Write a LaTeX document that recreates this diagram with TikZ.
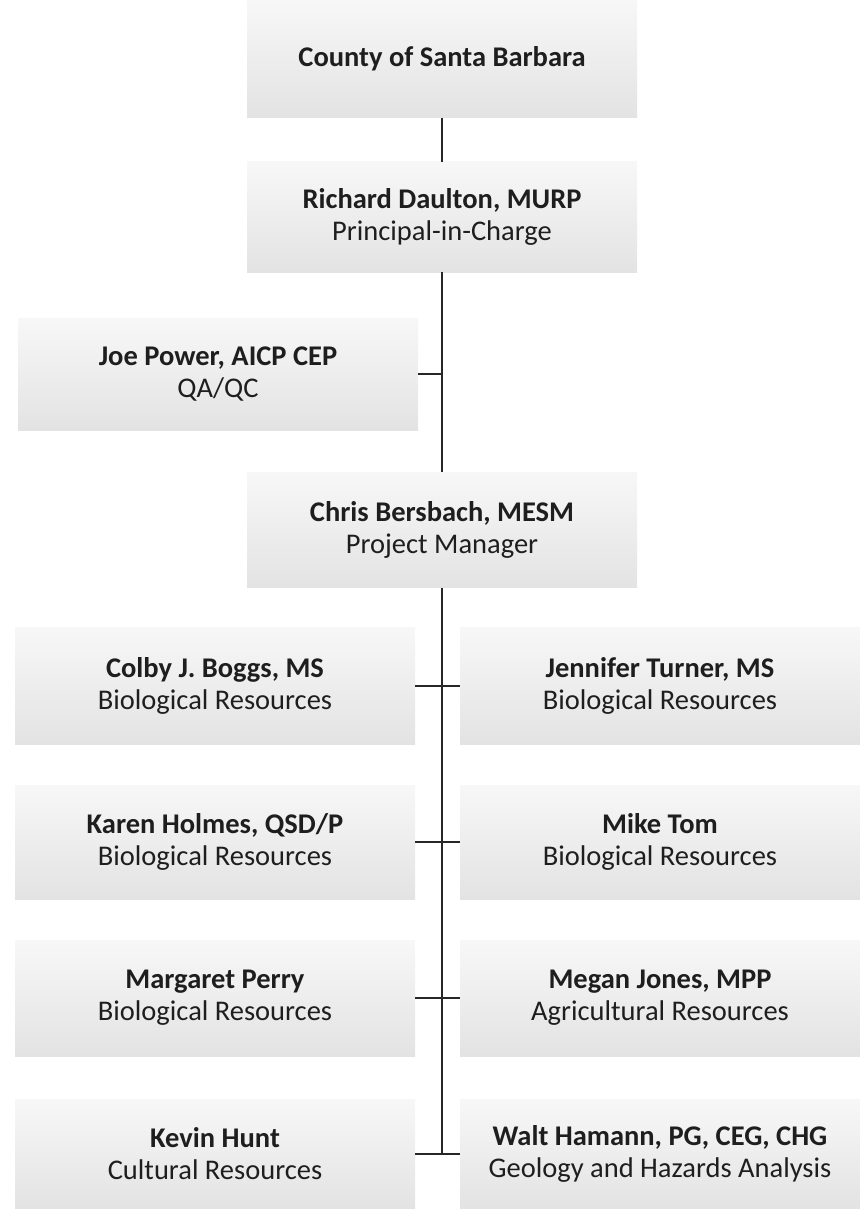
\documentclass[tikz,border=0pt]{standalone}
\usepackage{fontspec}
\setmainfont{Carlito}
\definecolor{txt}{HTML}{1E1E1E}
\tikzset{
  box/.style={draw=none, top color=gray!6, bottom color=gray!22, inner sep=0pt,
    align=center, text=txt, font=\fontsize{28.5}{32}\selectfont},
  wide/.style={box, minimum width=390pt},
  colbox/.style={box, minimum width=400pt},
  link/.style={line width=1.6pt, black!85}
}
\begin{document}
\begin{tikzpicture}[x=1pt,y=-1pt]
\useasboundingbox (0,0) rectangle (859,1209);
\node[wide, minimum height=118pt] (county) at (442,59) {\textbf{County of Santa Barbara}};
\node[wide, minimum height=110pt] (richard) at (442,217) {\textbf{Richard Daulton, MURP}\\Principal-in-Charge};
\node[colbox, minimum height=112pt] (joe) at (218,374) {\textbf{Joe Power, AICP CEP}\\QA/QC};
\node[wide, minimum height=115pt] (chris) at (442,530) {\textbf{Chris Bersbach, MESM}\\Project Manager};

\node[colbox, minimum height=117pt] (colby) at (215,686) {\textbf{Colby J. Boggs, MS}\\Biological Resources};
\node[colbox, minimum height=117pt] (jennifer) at (660,686) {\textbf{Jennifer Turner, MS}\\Biological Resources};
\node[colbox, minimum height=114pt] (karen) at (215,842) {\textbf{Karen Holmes, QSD/P}\\Biological Resources};
\node[colbox, minimum height=114pt] (mike) at (660,842) {\textbf{Mike Tom}\\Biological Resources};
\node[colbox, minimum height=116pt] (margaret) at (215,998) {\textbf{Margaret Perry}\\Biological Resources};
\node[colbox, minimum height=116pt] (megan) at (660,998) {\textbf{Megan Jones, MPP}\\Agricultural Resources};
\node[colbox, minimum height=110pt] (kevin) at (215,1154) {\textbf{Kevin Hunt}\\Cultural Resources};
\node[colbox, minimum height=110pt] (walt) at (660,1154) {\textbf{Walt Hamann, PG, CEG, CHG}\\Geology and Hazards Analysis};

\draw[link] (county.south) -- (richard.north);
\draw[link] (richard.south) -- (chris.north);
\draw[link] (joe.east) -- (joe.east -| richard.south);
\coordinate (spineend) at (kevin.east -| chris.south);
\draw[link] (chris.south) -- (spineend);
\draw[link] (colby.east) -- (jennifer.west);
\draw[link] (karen.east) -- (mike.west);
\draw[link] (margaret.east) -- (megan.west);
\draw[link] (kevin.east) -- (walt.west);
\end{tikzpicture}
\end{document}
